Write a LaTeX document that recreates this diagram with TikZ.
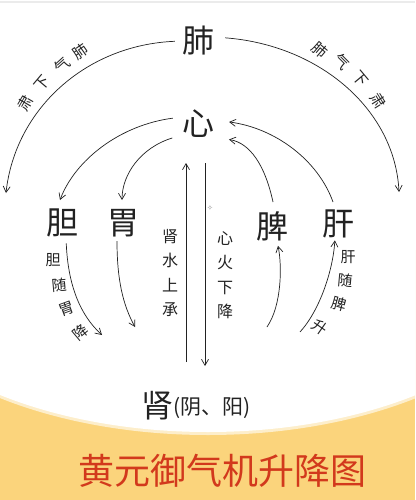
\documentclass[tikz,border=0pt]{standalone}
\usepackage{fontspec}
\newfontfamily\cjk{Noto Sans CJK SC}
\newfontfamily\djv{DejaVu Sans}
\usetikzlibrary{arrows.meta}
\definecolor{ink}{HTML}{222222}
\definecolor{bgyellow}{HTML}{FBD47C}
\definecolor{titlered}{HTML}{D2391C}
\tikzset{
  organ/.style={font=\cjk\fontsize{32}{32}\selectfont, text=ink, inner sep=0pt},
  lbl/.style={font=\cjk\fontsize{15}{15}\selectfont, text=ink, inner sep=0pt},
  vlbl/.style={font=\cjk\fontsize{16}{24.5}\selectfont, text=ink, inner sep=0pt, align=center},
  flow/.style={draw=ink, line width=0.7pt, -{Straight Barb[length=6pt,width=7pt]}},
}
\begin{document}
\begin{tikzpicture}[x=1pt,y=-1pt]
\useasboundingbox (0,0) rectangle (415,500);
\fill[white] (0,0) rectangle (415,500);
\begin{scope}
\clip (0,250) rectangle (415,500);
\fill[bgyellow] (0,250) rectangle (415,500);
\fill[white!60!bgyellow] (208,250) ellipse [x radius=347pt, y radius=185pt];
\fill[white] (208,250) ellipse [x radius=344pt, y radius=182pt];
\end{scope}
\fill[black!8] (0,1) rectangle (415,3.5);

% organs
\node[organ] (fei) at (198,41) {肺};
\node[organ] (xin) at (198,124) {心};
\node[organ] (dan) at (62,223) {胆};
\node[organ] (wei) at (123,223) {胃};
\node[organ] (pi) at (272,226) {脾};
\node[organ] (gan) at (338,224) {肝};
\node[organ] (shen) at (157,406) {肾};
\node[font=\cjk\fontsize{21}{21}\selectfont, text=ink, inner sep=0pt, anchor=west] (yy) at (173,408) {(阴、阳)};
\node[font=\cjk\fontsize{36}{36}\selectfont, text=titlered, inner sep=0pt] (title) at (222,471) {黄元御气机升降图};

% free ends
\coordinate (lb) at (6,193);
\coordinate (rb) at (399,192);
\coordinate (xl1) at (60,200);
\coordinate (xl2) at (122,200);
\coordinate (xr1) at (333,202);
\coordinate (xr2) at (273,202);
\coordinate (upb) at (186,362);
\coordinate (upt) at (186,163);
\coordinate (dnt) at (205,163);
\coordinate (dnb) at (205,366);
\coordinate (danend) at (102,335);
\coordinate (weiend) at (135,327);
\coordinate (pistart) at (267,327);
\coordinate (ganstart) at (300,332);

% big arcs from lung
\draw[flow, shorten <=7pt] (fei.west) .. controls (85,45) and (15,110) .. (lb);
\draw[flow, shorten <=11pt] ([yshift=4pt]fei.east) .. controls (320,45) and (395,110) .. (rb);

% heart arcs
\draw[flow, shorten <=9pt] ([yshift=7pt]xin.west) .. controls (120,125) and (75,160) .. (xl1);
\draw[flow, shorten <=10pt] ([yshift=-11pt]xin.west) .. controls (140,148) and (122,175) .. (xl2);
\draw[flow, shorten >=15pt] (xr1) .. controls (318,160) and (275,128) .. ([yshift=4pt]xin.east);
\draw[flow, shorten >=15pt] (xr2) .. controls (265,165) and (250,143) .. ([yshift=-13pt]xin.east);

% vertical kidney-heart
\draw[flow] (upb) -- (upt);
\draw[flow] (dnt) -- (dnb);

% gallbladder / stomach / spleen / liver
\draw[flow, shorten <=6pt] ([xshift=4pt]dan.south) .. controls (68,285) and (80,315) .. (danend);
\draw[flow, shorten <=4pt] ([xshift=-6pt]wei.south) .. controls (117,280) and (123,305) .. (weiend);
\draw[flow, shorten >=5pt] (pistart) .. controls (282,305) and (282,265) .. ([xshift=5pt]pi.south);
\draw[flow, shorten >=2pt] (ganstart) .. controls (320,310) and (333,270) .. ([xshift=-3pt]gan.south);

% vertical labels
\node[vlbl] (shui) at (170,273) {肾\\水\\上\\承};
\node[vlbl] (huo) at (225,275) {心\\火\\下\\降};

% arc labels
\node[lbl, rotate=35] (l1) at (80,52) {肺};
\node[lbl, rotate=42] (l2) at (62,65) {气};
\node[lbl, rotate=50] (l3) at (42,83) {下};
\node[lbl, rotate=60] (l4) at (25,103) {肃};
\node[lbl, rotate=-40] (r1) at (320,50) {肺};
\node[lbl, rotate=-45] (r2) at (342,62) {气};
\node[lbl, rotate=-50] (r3) at (360,79) {下};
\node[lbl, rotate=-58] (r4) at (378,101) {肃};

\node[lbl] (d1) at (53,260) {胆};
\node[lbl, rotate=5] (d2) at (59,285) {随};
\node[lbl, rotate=20] (d3) at (67,309) {胃};
\node[lbl, rotate=40] (d4) at (81,332) {降};

\node[lbl] (g1) at (348,257) {肝};
\node[lbl, rotate=-5] (g2) at (345,280) {随};
\node[lbl, rotate=-15] (g3) at (339,304) {脾};
\node[lbl, rotate=-35] (g4) at (320,327) {升};

\node[font=\djv\fontsize{7}{7}\selectfont, text=black!45, inner sep=0pt] (star) at (210,208) {✧};
\end{tikzpicture}
\end{document}
